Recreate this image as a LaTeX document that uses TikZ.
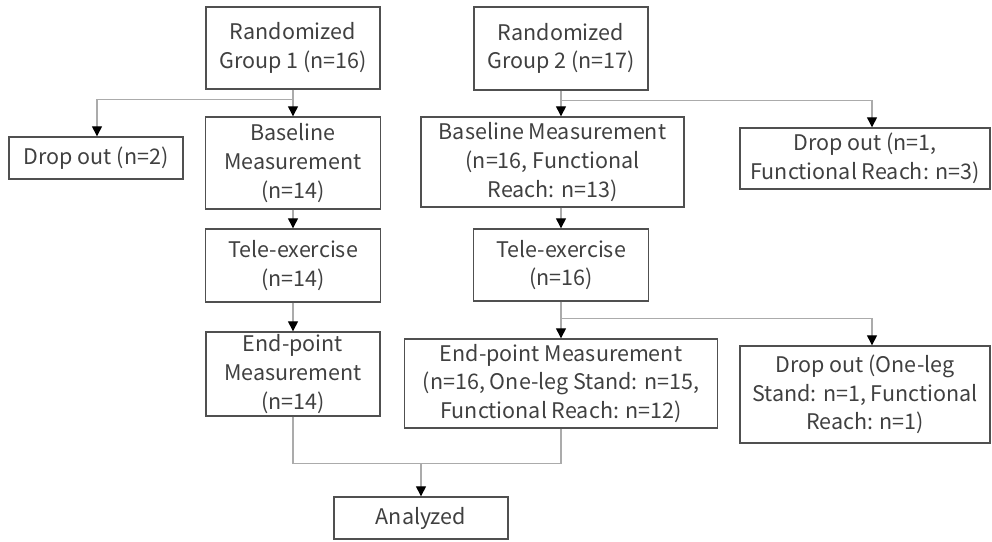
\documentclass[tikz,border=0pt]{standalone}
\usepackage{fontspec}
\setmainfont{Noto Sans CJK JP}
\usepackage{xcolor}
\usepackage{tikz}
\usetikzlibrary{calc,arrows.meta}
\definecolor{ink}{HTML}{404040}
\definecolor{frame}{HTML}{505050}
\definecolor{wire}{HTML}{ABABAB}
\tikzset{
  box/.style={draw=frame, line width=1.4pt, text=ink, align=center, inner sep=0pt,
    font=\fontsize{21.5}{28.8}\selectfont},
  link/.style={draw=wire, line width=1.3pt},
  arr/.style={link, -{Triangle[width=10pt,length=10pt,color=black]}},
}
\begin{document}
\begin{tikzpicture}[x=1pt,y=-1pt]
  \useasboundingbox (0,0) rectangle (992,541);
  % group 1
  \node[box, minimum width=174, minimum height=82] (rand1) at (293,48) {Randomized\\Group 1 (n=16)};
  \node[box, minimum width=174, minimum height=42] (drop1) at (96,158) {Drop out (n=2)};
  \node[box, minimum width=175, minimum height=92] (base1) at (293,163) {Baseline\\Measurement\\(n=14)};
  \node[box, minimum width=175, minimum height=73] (tele1) at (293,265.5) {Tele-exercise\\(n=14)};
  \node[box, minimum width=174, minimum height=84] (end1) at (293,374) {End-point\\Measurement\\(n=14)};
  % group 2
  \node[box, minimum width=174, minimum height=83] (rand2) at (561,48.5) {Randomized\\Group 2 (n=17)};
  \node[box, minimum width=263, minimum height=90] (base2) at (552.5,162) {Baseline Measurement\\(n=16, Functional\\Reach: n=13)};
  \node[box, minimum width=250, minimum height=61] (drop2) at (865,158.5) {Drop out (n=1,\\Functional Reach: n=3)};
  \node[box, minimum width=175, minimum height=72] (tele2) at (561,265) {Tele-exercise\\(n=16)};
  \node[box, minimum width=313, minimum height=89] (end2) at (561,383.5) {End-point Measurement\\(n=16, One-leg Stand: n=15,\\Functional Reach: n=12)};
  \node[box, minimum width=250, minimum height=97] (drop3) at (865,394.5) {Drop out (One-leg\\Stand: n=1, Functional\\Reach: n=1)};
  \node[box, minimum width=174, minimum height=42] (anal) at (421,518) {Analyzed};

  % connectors
  \coordinate (split1) at ($(rand1.south)+(0,10)$);
  \coordinate (split2) at ($(rand2.south)+(0,10)$);
  \coordinate (split3) at ($(tele2.south)+(0,17)$);
  \coordinate (merge) at ($(anal.north)+(0,-33)$);
  \draw[arr] (rand1.south) -- (base1.north);
  \draw[arr] (split1) -| ([xshift=1pt]drop1.north);
  \draw[arr] (base1.south) -- (tele1.north);
  \draw[arr] (tele1.south) -- (end1.north);
  \draw[arr] (rand2.south) -- (rand2.south |- base2.north);
  \draw[arr] (split2) -| ([xshift=7pt]drop2.north);
  \draw[arr] (tele2.north |- base2.south) -- (tele2.north);
  \draw[arr] (tele2.south) -- (end2.north);
  \draw[arr] (split3) -| ([xshift=7pt]drop3.north);
  \draw[link] (end1.south) |- (merge) -| (end2.south);
  \draw[arr] (merge) -- (anal.north);
\end{tikzpicture}
\end{document}
